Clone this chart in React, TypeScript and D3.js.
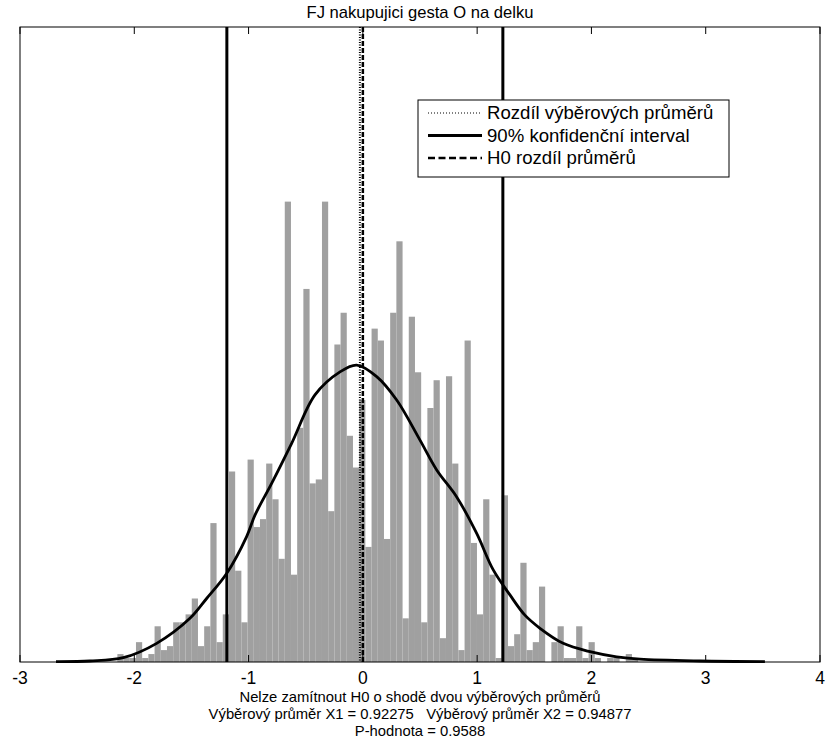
import React from "react";
import * as d3 from "d3";

const titleText = "FJ nakupujici gesta O na delku";
const xTicks = [-3, -2, -1, 0, 1, 2, 3, 4];
const xLabelLines = [
  "Nelze zamítnout H0 o shodě dvou výběrových průměrů",
  "Výběrový průměr X1 = 0.92275   Výběrový průměr X2 = 0.94877",
  "P-hodnota = 0.9588",
];
const legendLabels = ["Rozdíl výběrových průměrů", "90% konfidenční interval", "H0 rozdíl průměrů"];

// histogram (bin start, bin width, counts)
const binStart = -2.148;
const binWidth = 0.05425;
const counts = [
  2, 1, 1, 5, 1, 2, 9, 3, 4, 10, 10, 12, 16, 4, 9, 35, 5, 12, 48, 23, 10, 51, 34, 36, 50, 41, 26, 116, 22, 59, 94, 45, 46,
  116, 38, 80, 88, 57, 49, 66, 29, 84, 81, 31, 88, 106, 11, 87, 73, 10, 64, 71, 6, 72, 50, 3, 81, 30, 12, 41, 22, 1, 42,
  4, 7, 25, 3, 5, 19, 0, 5, 9, 1, 1, 9, 1, 5, 1, 0, 1, 1, 0, 2, 1,
];

// kernel density curve
const densX = [
  -2.685, -2.388, -2.096, -1.804, -1.513, -1.367, -1.192, -1.017, -0.944, -0.798, -0.623, -0.419, -0.2, -0.054, 0.121,
  0.296, 0.5, 0.646, 0.821, 0.996, 1.141, 1.287, 1.418, 1.55, 1.753, 1.987, 2.221, 2.425, 2.95, 3.518,
];
const densY = [
  0.1, 0.25, 1.08, 4.7, 11.0, 16.0, 22.3, 31.6, 37.0, 45.0, 55.1, 67.3, 73.1, 74.8, 71.9, 66.0, 55.9, 48.4, 41.6, 32.4,
  23.2, 16.9, 11.8, 8.5, 4.7, 2.6, 1.3, 0.7, 0.25, 0.1,
];

const meanDiff = -0.026;
const ciBounds = [-1.19, 1.225];
const h0Value = 0;

const W = 828;
const H = 754;
const left = 20;
const right = 820;
const top = 27;
const bottom = 662;
const FONT = "'Liberation Sans', Arial, Helvetica, sans-serif";

export default function App() {
  const x = d3.scaleLinear().domain([-3, 4]).range([left, right]);
  const y = d3.scaleLinear().domain([0, 160]).range([bottom, top]);
  const line = d3
    .line<number>()
    .x((_, i) => x(densX[i]))
    .y((d) => y(d))
    .curve(d3.curveCatmullRom.alpha(0.5));
  const cx = (left + right) / 2;

  return (
    <svg
      width={W}
      height={H}
      style={{ position: "absolute", left: 0, top: 0, background: "#fff" }}
      fontFamily={FONT}
    >
      <rect x={0} y={0} width={W} height={H} fill="#fff" />
      {counts.map((c, i) => {
        const x0 = binStart + i * binWidth;
        return (
          <rect
            key={i}
            x={x(x0)}
            y={y(c)}
            width={x(x0 + binWidth) - x(x0)}
            height={y(0) - y(c)}
            fill="#a0a0a0"
          />
        );
      })}
      <path d={line(densY) || ""} fill="none" stroke="#000" strokeWidth={2.8} />
      {ciBounds.map((v, i) => (
        <line key={i} x1={x(v)} x2={x(v)} y1={top} y2={bottom} stroke="#000" strokeWidth={3} />
      ))}
      <line x1={x(meanDiff)} x2={x(meanDiff)} y1={top} y2={bottom} stroke="#000" strokeWidth={2} strokeDasharray="1,1.5" />
      <line x1={x(h0Value)} x2={x(h0Value)} y1={top} y2={bottom} stroke="#000" strokeWidth={2.5} strokeDasharray="5,2" />
      <rect x={left} y={top} width={right - left} height={bottom - top} fill="none" stroke="#000" strokeWidth={1} />
      {xTicks.map((t) => (
        <g key={t}>
          <line x1={x(t)} x2={x(t)} y1={bottom} y2={bottom - 7} stroke="#000" />
          <line x1={x(t)} x2={x(t)} y1={top} y2={top + 7} stroke="#000" />
          <text x={x(t)} y={bottom + 22} textAnchor="middle" fontSize={17.5}>
            {t}
          </text>
        </g>
      ))}
      <text x={cx} y={18} textAnchor="middle" fontSize={16.6}>
        {titleText}
      </text>
      {xLabelLines.map((s, i) => (
        <text
          key={i}
          x={cx}
          y={702 + i * 17}
          textAnchor="middle"
          fontSize={14.8}
          style={{ whiteSpace: "pre" }}
        >
          {s}
        </text>
      ))}
      <g>
        <rect x={418} y={100} width={311} height={77} fill="#fff" stroke="#000" strokeWidth={1} />
        {legendLabels.map((s, i) => {
          const ry = 113 + i * 22.5;
          return (
            <g key={i}>
              {i === 0 && (
                <line x1={428} x2={482} y1={ry} y2={ry} stroke="#000" strokeWidth={1} strokeDasharray="1,2" />
              )}
              {i === 1 && <line x1={428} x2={482} y1={ry} y2={ry} stroke="#000" strokeWidth={3} />}
              {i === 2 && (
                <line x1={428} x2={482} y1={ry} y2={ry} stroke="#000" strokeWidth={2.5} strokeDasharray="7,3.5" />
              )}
              <text x={487} y={ry + 6} fontSize={18.6}>
                {s}
              </text>
            </g>
          );
        })}
      </g>
    </svg>
  );
}
